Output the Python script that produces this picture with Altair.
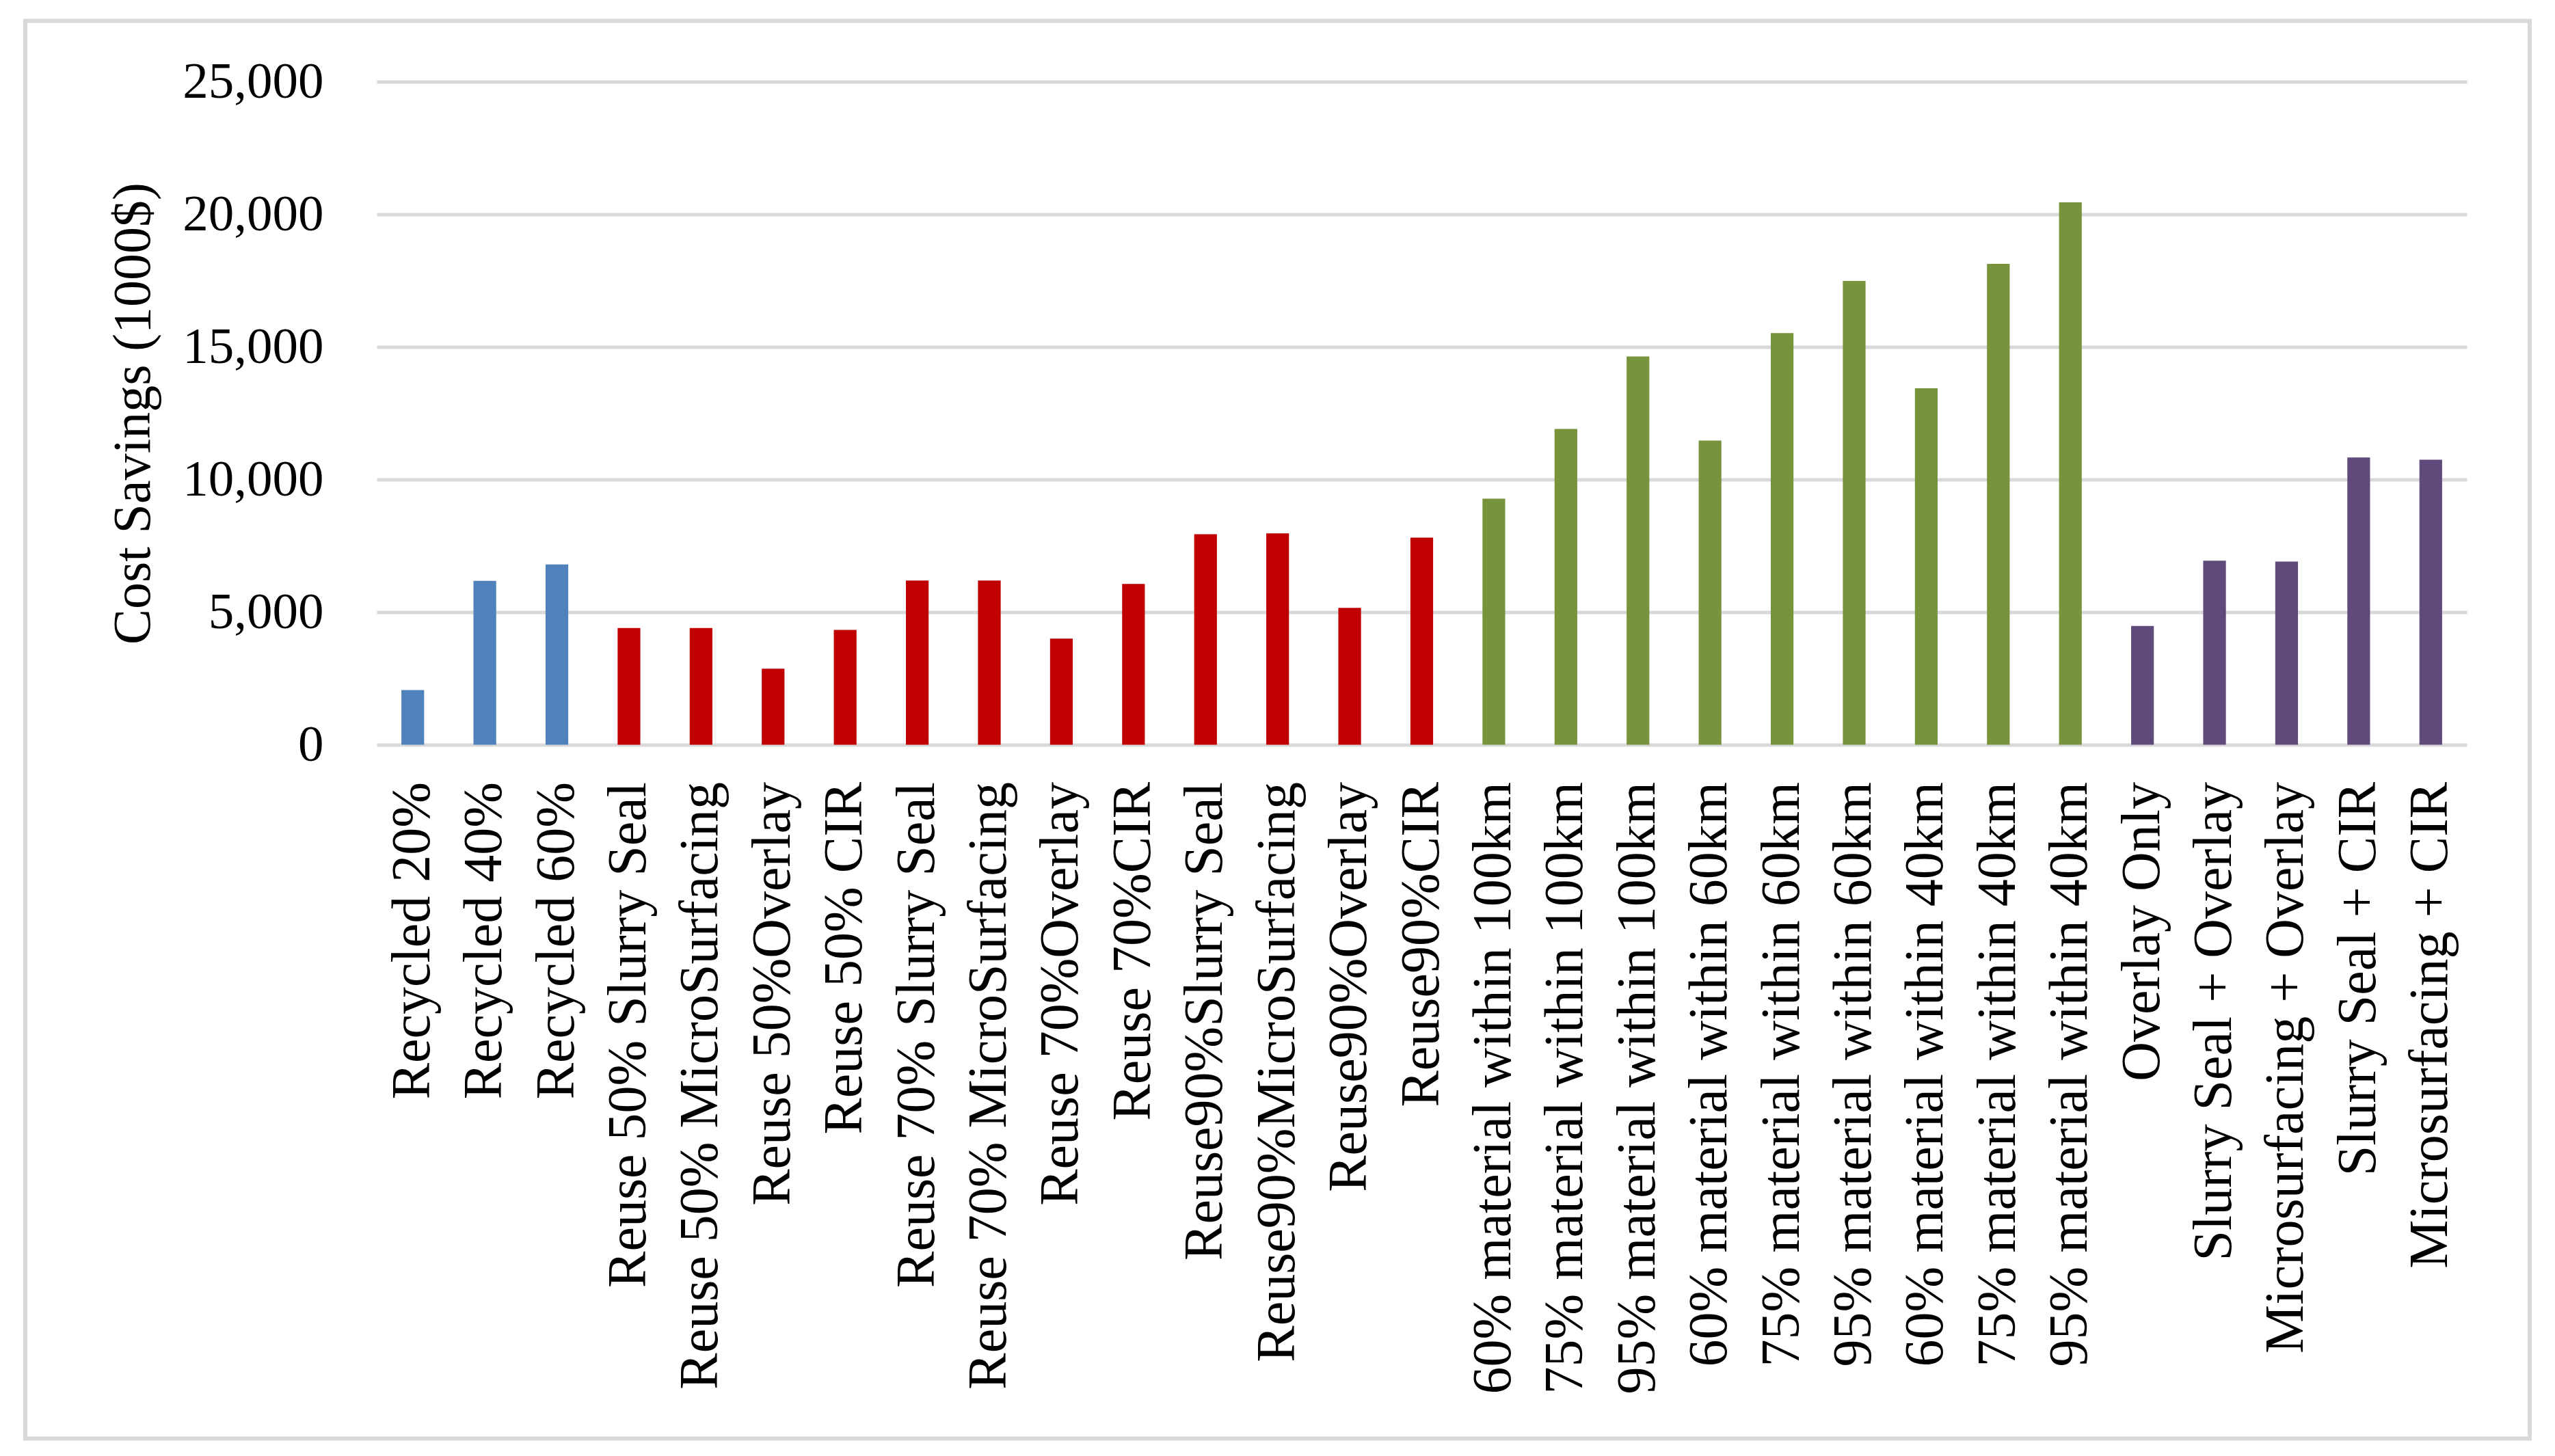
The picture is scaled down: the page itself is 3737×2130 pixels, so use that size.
import altair as alt
import pandas as pd

categories = [
    "Recycled 20%", "Recycled 40%", "Recycled 60%",
    "Reuse 50% Slurry Seal", "Reuse 50% MicroSurfacing", "Reuse 50%Overlay", "Reuse 50% CIR",
    "Reuse 70% Slurry Seal", "Reuse 70% MicroSurfacing", "Reuse 70%Overlay", "Reuse 70%CIR",
    "Reuse90%Slurry Seal", "Reuse90%MicroSurfacing", "Reuse90%Overlay", "Reuse90%CIR",
    "60% material within 100km", "75% material within 100km", "95% material within 100km",
    "60% material within 60km", "75% material within 60km", "95% material within 60km",
    "60% material within 40km", "75% material within 40km", "95% material within 40km",
    "Overlay Only", "Slurry Seal + Overlay", "Microsurfacing + Overlay",
    "Slurry Seal + CIR", "Microsurfacing + CIR",
]
values = [
    2060, 6180, 6800,
    4400, 4400, 2870, 4330,
    6190, 6190, 4000, 6060,
    7940, 7970, 5160, 7810,
    9280, 11910, 14640,
    11470, 15520, 17490,
    13440, 18130, 20450,
    4480, 6940, 6910,
    10830, 10750,
]
groups = (["Recycled"] * 3 + ["Reuse"] * 12 + ["Material"] * 9 + ["Combination"] * 5)
group_names = ["Recycled", "Reuse", "Material", "Combination"]
group_colors = ["#4F81BD", "#C00000", "#77933C", "#604A7B"]
y_ticks = [0, 5000, 10000, 15000, 20000, 25000]

df = pd.DataFrame({"category": categories, "value": values, "group": groups})

W, H = 3057, 970
FONT = "Liberation Serif"
GRID = "#D9D9D9"

bars = alt.Chart(df).mark_bar().encode(
    x=alt.X(
        "category:N",
        sort=categories,
        scale=alt.Scale(paddingInner=0.685, paddingOuter=0.3425),
        axis=alt.Axis(
            title=None, labelAngle=-90, labelFont=FONT, labelFontSize=80,
            labelColor="black", labelPadding=54, ticks=False, domain=False,
            grid=False, labelLimit=3000, labelOverlap=False,
        ),
    ),
    y=alt.Y(
        "value:Q",
        scale=alt.Scale(domain=[0, 25000], nice=False),
        axis=alt.Axis(
            values=y_ticks, format=",.0f", title="Cost Savings (1000$)",
            labelFont=FONT, labelFontSize=75, labelColor="black",
            labelPadding=78, ticks=False, domain=False, labelLimit=1000,
            grid=True, gridColor=GRID, gridWidth=5,
            titleFont=FONT, titleFontSize=78, titleFontWeight="normal",
            titleColor="black", titleAngle=-90, titleX=-356, titleY=H / 2,
            titleAlign="center", titleBaseline="middle",
        ),
    ),
    color=alt.Color(
        "group:N",
        scale=alt.Scale(domain=group_names, range=group_colors),
        legend=None,
    ),
)

frame = alt.Chart(pd.DataFrame({"a": [0]})).mark_rect(
    filled=False, stroke=GRID, strokeWidth=6
).encode(
    x=alt.value(-514), x2=alt.value(3149), y=alt.value(-89), y2=alt.value(1985)
)

chart = alt.layer(bars, frame).properties(
    width=W, height=H,
    padding={"left": 543, "top": 111.5, "right": 113, "bottom": 1030},
    autosize=alt.AutoSizeParams(type="none"),
    background="white",
).configure_view(stroke=None)

chart.save("out.html", embed_options={"renderer": "svg", "actions": False})
